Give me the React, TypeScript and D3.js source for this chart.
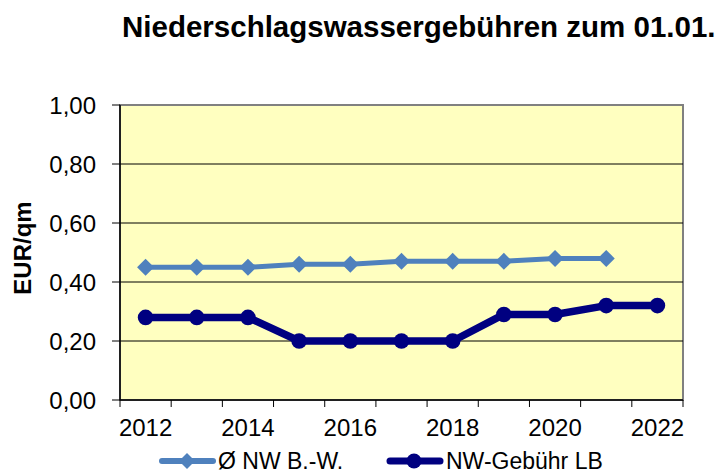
import React from "react";
import * as d3 from "d3";

const years = ["2012", "2013", "2014", "2015", "2016", "2017", "2018", "2019", "2020", "2021", "2022"];
const bwValues = [0.45, 0.45, 0.45, 0.46, 0.46, 0.47, 0.47, 0.47, 0.48, 0.48];
const lbValues = [0.28, 0.28, 0.28, 0.2, 0.2, 0.2, 0.2, 0.29, 0.29, 0.32, 0.32];
const yTicks = [0, 0.2, 0.4, 0.6, 0.8, 1.0];
const labelYears = ["2012", "2014", "2016", "2018", "2020", "2022"];

const W = 715;
const H = 474;
const margin = { top: 105, right: 32, bottom: 74, left: 120 };
const font = "'Liberation Sans', Arial, sans-serif";

export default function App() {
  const innerW = W - margin.left - margin.right;
  const innerH = H - margin.top - margin.bottom;

  const x = d3.scaleBand().domain(years).range([0, innerW]).padding(0);
  const y = d3.scaleLinear().domain([0, 1]).range([innerH, 0]);
  const cx = (yr: string) => (x(yr) ?? 0) + x.bandwidth() / 2;

  const line = d3
    .line<number>()
    .x((_, i) => cx(years[i]))
    .y((d) => y(d));

  const fmt = (v: number) => v.toFixed(2).replace(".", ",");
  const diamond = (px: number, py: number, r: number) =>
    `M${px},${py - r}L${px + r},${py}L${px},${py + r}L${px - r},${py}Z`;

  const boundaries = years.map((yr) => x(yr) ?? 0).concat([innerW]);

  return (
    <svg width={W} height={H} style={{ display: "block", position: "absolute", left: 0, top: 0 }} fontFamily={font}>
      <rect width={W} height={H} fill="#fff" />
      <text x={122} y={37} fontWeight="bold" fontSize={29.5} fill="#000">
        Niederschlagswassergebühren zum 01.01.
      </text>
      <g transform={`translate(${margin.left},${margin.top})`}>
        <rect width={innerW} height={innerH} fill="#ffffc0" stroke="#808080" strokeWidth={2} />
        {yTicks.slice(1, -1).map((t) => (
          <line key={t} x1={0} x2={innerW} y1={y(t)} y2={y(t)} stroke="#000" strokeWidth={1} />
        ))}
        {/* y axis */}
        <line x1={0} x2={0} y1={0} y2={innerH} stroke="#000" strokeWidth={1.5} />
        {yTicks.map((t) => (
          <g key={t}>
            <line x1={-8} x2={0} y1={y(t)} y2={y(t)} stroke="#000" strokeWidth={1} />
            <text x={-24} y={y(t)} dy="0.36em" textAnchor="end" fontSize={24} fill="#000">
              {fmt(t)}
            </text>
          </g>
        ))}
        {/* x axis */}
        <line x1={0} x2={innerW} y1={innerH} y2={innerH} stroke="#000" strokeWidth={1.5} />
        {boundaries.map((b, i) => (
          <line key={i} x1={b} x2={b} y1={innerH} y2={innerH + 7} stroke="#000" strokeWidth={1} />
        ))}
        {labelYears.map((yr) => (
          <text key={yr} x={cx(yr)} y={innerH + 36} textAnchor="middle" fontSize={24} fill="#000">
            {yr}
          </text>
        ))}
        {/* series */}
        <path d={line(bwValues) ?? ""} fill="none" stroke="#4f81bd" strokeWidth={5} />
        {bwValues.map((v, i) => (
          <path key={i} d={diamond(cx(years[i]), y(v), 8.5)} fill="#4f81bd" />
        ))}
        <path d={line(lbValues) ?? ""} fill="none" stroke="#000080" strokeWidth={7.5} strokeLinejoin="round" />
        {lbValues.map((v, i) => (
          <circle key={i} cx={cx(years[i])} cy={y(v)} r={7.8} fill="#000080" />
        ))}
      </g>
      <text
        transform={`translate(31,248) rotate(-90)`}
        textAnchor="middle"
        fontWeight="bold"
        fontSize={24}
        fill="#000"
      >
        EUR/qm
      </text>
      {/* legend */}
      <g transform="translate(0,461)">
        <line x1={162} x2={213} y1={0} y2={0} stroke="#4f81bd" strokeWidth={6} strokeLinecap="round" />
        <path d={diamond(187, 0, 8)} fill="#4f81bd" />
        <text x={218} y={0} dy="0.34em" fontSize={23} fill="#000">
          Ø NW B.-W.
        </text>
        <line x1={390} x2={440} y1={0} y2={0} stroke="#000080" strokeWidth={7} strokeLinecap="round" />
        <circle cx={414} cy={0} r={7.5} fill="#000080" />
        <text x={446} y={0} dy="0.34em" fontSize={23} fill="#000">
          NW-Gebühr LB
        </text>
      </g>
    </svg>
  );
}
